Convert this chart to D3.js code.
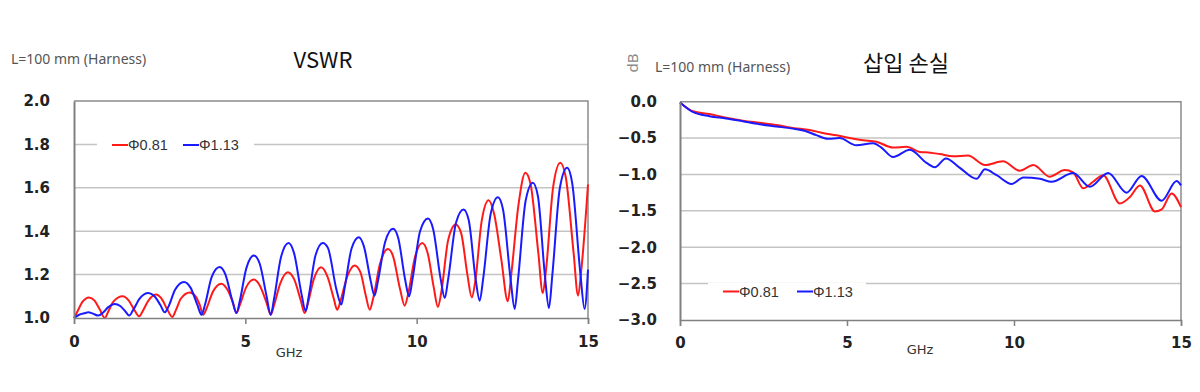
<!DOCTYPE html>
<html>
<head>
<meta charset="utf-8">
<script src="https://cdn.jsdelivr.net/npm/d3@7"></script>
<style>
  html, body { margin: 0; padding: 0; background: #fff; }
  svg { display: block; }
</style>
</head>
<body>
<svg id="chart" width="1200" height="392"></svg>
<script>
// ---------------- DATA ----------------
const seriesNames = ["Φ0.81", "Φ1.13"];
const xTicks = [0, 5, 10, 15];
const vswrTicks = [1.0, 1.2, 1.4, 1.6, 1.8, 2.0];
const lossTicks = [0.0, -0.5, -1.0, -1.5, -2.0, -2.5, -3.0];

// VSWR, Φ0.81 (red)
const vswrFreqA = [0.00,0.10,0.25,0.44,0.60,0.75,0.90,1.00,1.15,1.42,1.60,1.75,1.90,2.00,2.15,2.39,2.55,2.72,2.87,2.97,3.12,3.38,3.55,3.67,3.77,3.87,4.05,4.30,4.48,4.64,4.74,4.84,5.02,5.25,5.42,5.62,5.74,5.84,6.02,6.24,6.42,6.62,6.73,6.83,7.00,7.21,7.40,7.58,7.68,7.78,7.97,8.19,8.36,8.52,8.63,8.73,8.93,9.16,9.30,9.52,9.65,9.75,9.95,10.16,10.32,10.50,10.62,10.72,10.92,11.14,11.30,11.48,11.61,11.71,11.90,12.10,12.26,12.47,12.66,12.76,12.97,13.17,13.32,13.55,13.68,13.78,13.98,14.19,14.35,14.58,14.71,14.81,15.00];
const vswrValA  = [1.000,1.030,1.075,1.095,1.080,1.040,1.000,1.030,1.075,1.100,1.080,1.040,1.008,1.030,1.075,1.108,1.090,1.040,1.005,1.035,1.090,1.118,1.100,1.060,1.015,1.045,1.120,1.158,1.130,1.070,1.023,1.060,1.140,1.177,1.150,1.070,1.015,1.060,1.160,1.211,1.180,1.080,1.023,1.070,1.180,1.234,1.190,1.090,1.038,1.080,1.190,1.242,1.210,1.100,1.038,1.090,1.250,1.318,1.290,1.130,1.057,1.110,1.280,1.346,1.300,1.140,1.051,1.120,1.360,1.431,1.390,1.200,1.095,1.170,1.450,1.543,1.480,1.270,1.077,1.200,1.520,1.669,1.620,1.300,1.115,1.230,1.600,1.715,1.650,1.300,1.103,1.230,1.615];

// VSWR, Φ1.13 (blue)
const vswrFreqB = [0.00,0.15,0.30,0.42,0.55,0.71,0.85,1.00,1.19,1.35,1.50,1.61,1.72,1.92,2.17,2.35,2.52,2.65,2.75,2.95,3.21,3.40,3.60,3.72,3.82,4.02,4.25,4.42,4.62,4.74,4.84,5.03,5.25,5.42,5.62,5.74,5.84,6.04,6.26,6.42,6.64,6.76,6.86,7.05,7.26,7.41,7.66,7.80,7.90,8.10,8.31,8.46,8.66,8.77,8.87,9.08,9.31,9.46,9.66,9.78,9.88,10.10,10.33,10.48,10.70,10.82,10.92,11.15,11.37,11.52,11.72,11.84,11.94,12.16,12.37,12.52,12.74,12.86,12.96,13.18,13.39,13.54,13.74,13.86,13.96,14.18,14.39,14.54,14.78,14.90,15.00];
const vswrValB  = [1.000,1.015,1.022,1.026,1.020,1.011,1.025,1.050,1.065,1.055,1.030,1.011,1.035,1.090,1.115,1.100,1.060,1.026,1.050,1.130,1.166,1.140,1.060,1.015,1.060,1.190,1.235,1.200,1.080,1.023,1.080,1.230,1.288,1.250,1.100,1.015,1.090,1.280,1.346,1.300,1.110,1.031,1.110,1.290,1.346,1.323,1.130,1.062,1.140,1.320,1.372,1.330,1.170,1.103,1.170,1.350,1.411,1.370,1.180,1.100,1.180,1.400,1.458,1.410,1.180,1.092,1.180,1.440,1.500,1.450,1.180,1.080,1.180,1.480,1.557,1.500,1.180,1.042,1.180,1.540,1.623,1.560,1.200,1.046,1.200,1.600,1.692,1.620,1.200,1.042,1.223];

// Insertion loss (dB), Φ0.81 (red)
const lossFreqA = [0.00,0.38,0.88,1.38,1.88,2.38,2.88,3.38,3.88,4.38,4.68,5.08,5.48,5.88,6.38,6.78,7.18,7.50,7.78,8.18,8.62,9.13,9.67,10.17,10.58,11.07,11.52,11.77,12.07,12.37,12.67,13.17,13.47,13.77,14.22,14.42,14.72,15.00];
const lossValA  = [-0.01,-0.13,-0.17,-0.22,-0.26,-0.29,-0.32,-0.36,-0.39,-0.44,-0.46,-0.50,-0.53,-0.55,-0.63,-0.62,-0.69,-0.70,-0.72,-0.75,-0.74,-0.87,-0.82,-0.95,-0.87,-1.03,-0.94,-0.97,-1.19,-1.10,-1.01,-1.40,-1.31,-1.15,-1.51,-1.48,-1.26,-1.45];

// Insertion loss (dB), Φ1.13 (blue)
const lossFreqB = [0.00,0.38,0.88,1.38,1.88,2.38,2.88,3.38,3.73,4.08,4.43,4.78,5.28,5.78,6.03,6.38,6.88,7.38,7.63,7.96,8.38,8.88,9.13,9.48,9.93,10.28,10.78,11.13,11.77,12.27,12.82,13.37,13.82,14.42,14.87,15.00];
const lossValB  = [-0.01,-0.14,-0.20,-0.23,-0.27,-0.31,-0.34,-0.37,-0.40,-0.46,-0.51,-0.50,-0.60,-0.57,-0.63,-0.76,-0.66,-0.84,-0.90,-0.78,-0.91,-1.06,-0.93,-1.01,-1.13,-1.04,-1.06,-1.10,-0.98,-1.17,-0.98,-1.25,-1.02,-1.36,-1.09,-1.15];

const colors = ["#ff1a1a", "#1a1aff"];

// ---------------- DRAW ----------------
const svg = d3.select("#chart");
const tickFont = "'DejaVu Sans', Verdana, sans-serif";
const textFont = "'Noto Sans', 'Noto Sans CJK KR', sans-serif";

function zip(xs, ys) { return xs.map((x, i) => [x, ys[i]]); }

function panel(cfg) {
  const x = d3.scaleLinear().domain([0, 15]).range([cfg.left, cfg.right]);
  const y = d3.scaleLinear().domain(cfg.yDomain).range([cfg.bottom, cfg.top]);
  const g = svg.append("g");

  // gridlines
  g.append("g").selectAll("line")
    .data(cfg.yTicks.filter(t => t !== cfg.yDomain[0] && t !== cfg.yDomain[1]))
    .join("line")
    .attr("x1", cfg.left).attr("x2", cfg.right)
    .attr("y1", d => y(d)).attr("y2", d => y(d))
    .attr("stroke", "#c4c4c4").attr("stroke-width", 1.5);

  // top & right border
  g.append("path")
    .attr("d", `M${cfg.left},${cfg.top}H${cfg.right}V${cfg.bottom}`)
    .attr("fill", "none").attr("stroke", "#8c8c8c").attr("stroke-width", 1.5);

  // legend background (breaks the gridline)
  g.append("rect")
    .attr("x", cfg.legend.boxX).attr("y", cfg.legend.y - 9)
    .attr("width", cfg.legend.boxW).attr("height", 18)
    .attr("fill", "#fff");

  // series lines
  const line = d3.line().x(d => x(d[0])).y(d => y(d[1])).curve(d3.curveMonotoneX);
  cfg.series.forEach((s, i) => {
    g.append("path").datum(s)
      .attr("d", line)
      .attr("fill", "none")
      .attr("stroke", colors[i])
      .attr("stroke-width", 2)
      .attr("stroke-linejoin", "round");
  });

  // x axis
  const xa = g.append("g")
    .attr("transform", `translate(0,${cfg.bottom})`)
    .call(d3.axisBottom(x).tickValues(xTicks).tickSize(6).tickPadding(cfg.xPad).tickFormat(d3.format("d")));
  xa.select(".domain").attr("stroke", "#808080").attr("stroke-width", 1.5);
  xa.selectAll(".tick line").attr("stroke", "#808080").attr("stroke-width", 1.5);
  xa.selectAll("text").attr("font-family", tickFont).attr("font-weight", "bold")
    .attr("font-size", 15).attr("fill", "#222");

  // y axis
  const ya = g.append("g")
    .attr("transform", `translate(${cfg.left},0)`)
    .call(d3.axisLeft(y).tickValues(cfg.yTicks).tickSize(0).tickPadding(cfg.yPad).tickFormat(d3.format(".1f")));
  ya.select(".domain").attr("stroke", "#808080").attr("stroke-width", 2);
  ya.selectAll("text").attr("font-family", tickFont).attr("font-weight", "bold")
    .attr("font-size", 15).attr("fill", "#222");

  // legend
  const lg = g.append("g");
  seriesNames.forEach((name, i) => {
    const lx = cfg.legend.items[i];
    lg.append("line").attr("x1", lx).attr("x2", lx + 16)
      .attr("y1", cfg.legend.y).attr("y2", cfg.legend.y)
      .attr("stroke", colors[i]).attr("stroke-width", 2);
    lg.append("text").attr("x", lx + 16).attr("y", cfg.legend.y).attr("dy", "0.35em")
      .attr("font-family", "'Liberation Sans', Arial, sans-serif").attr("font-size", 14.5)
      .attr("fill", "#333").text(name);
  });

  // GHz label
  g.append("text").attr("x", cfg.ghz[0]).attr("y", cfg.ghz[1]).attr("text-anchor", "middle")
    .attr("dy", "0.35em")
    .attr("font-family", tickFont).attr("font-size", 13).attr("fill", "#333").text("GHz");

  // subtitle
  g.append("text").attr("x", cfg.sub[0]).attr("y", cfg.sub[1]).attr("dy", "0.35em")
    .attr("font-family", textFont).attr("font-size", 14).attr("fill", "#555")
    .text("L=100 mm (Harness)");

  // title
  g.append("text").attr("x", cfg.title[0]).attr("y", cfg.title[1]).attr("text-anchor", "middle")
    .attr("font-family", "'Noto Sans CJK KR', 'Noto Sans', sans-serif").attr("font-size", 22)
    .attr("fill", "#111").text(cfg.titleText);

  return g;
}

panel({
  left: 74, right: 588, top: 101, bottom: 318,
  yDomain: [1.0, 2.0], yTicks: vswrTicks, yPad: 24, xPad: 12.5,
  series: [zip(vswrFreqA, vswrValA), zip(vswrFreqB, vswrValB)],
  legend: { y: 145, boxX: 97, boxW: 157, items: [112, 183] },
  ghz: [289, 352], sub: [11, 59], title: [323, 68], titleText: "VSWR"
});

const right = panel({
  left: 680, right: 1181, top: 101.7, bottom: 320,
  yDomain: [-3.0, 0.0], yTicks: lossTicks, yPad: 23, xPad: 11,
  series: [zip(lossFreqA, lossValA), zip(lossFreqB, lossValB)],
  legend: { y: 291.5, boxX: 708, boxW: 158, items: [723, 797] },
  ghz: [920, 349], sub: [655, 67], title: [906, 71], titleText: "삽입 손실"
});

// dB label
right.append("text")
  .attr("transform", "translate(633,63) rotate(-90)")
  .attr("text-anchor", "middle").attr("dy", "0.35em")
  .attr("font-family", textFont).attr("font-size", 15).attr("fill", "#888")
  .text("dB");
</script>
</body>
</html>
